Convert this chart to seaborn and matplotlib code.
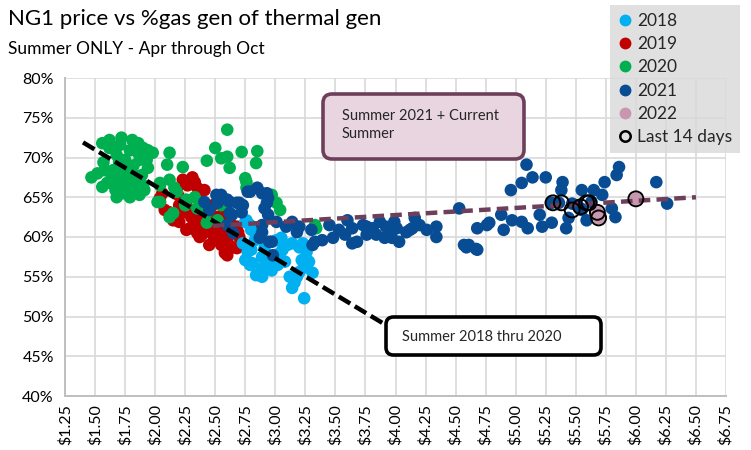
import matplotlib
matplotlib.use("Agg")
import matplotlib.pyplot as plt
from matplotlib.patches import FancyBboxPatch
from matplotlib.lines import Line2D
from matplotlib.ticker import FuncFormatter
import seaborn as sns
import pandas as pd
import numpy as np

# ---------------- data (price $/MMBtu, % gas gen of thermal gen) ----------------
price_2018 = [2.75, 2.79, 2.73, 2.77, 2.75, 2.81, 2.89, 2.95, 3.02, 3.06, 3.10, 3.14, 3.20, 3.26,
              3.22, 3.26, 3.20, 3.12, 3.16, 3.14, 3.24, 2.89, 2.84, 2.89, 2.97, 3.04, 3.28, 3.05,
              3.01, 2.80, 2.76, 2.80, 2.79, 2.98, 3.23, 3.31, 3.24, 2.83, 2.91, 3.08, 3.18]
pct_2018 = [61.9, 61.5, 59.2, 58.1, 57.1, 56.7, 57.5, 56.9, 56.5, 58.4, 59.0, 59.2, 58.7, 58.1,
            57.1, 56.2, 55.6, 55.0, 54.3, 53.6, 52.3, 55.0, 55.2, 56.1, 55.8, 58.0, 56.9, 59.9,
            59.6, 58.4, 62.1, 60.9, 56.5, 57.1, 59.2, 55.5, 56.5, 59.6, 58.6, 56.9, 55.0]

price_2019 = [2.31, 2.23, 2.06, 2.04, 2.12, 2.20, 2.29, 2.39, 2.48, 2.55, 2.60, 2.68, 2.69, 2.62,
              2.43, 2.26, 2.35, 2.51, 2.45, 2.56, 2.04, 2.15, 2.26, 2.37, 2.51, 2.58, 2.65, 2.70,
              2.68, 2.51, 2.37, 2.19, 2.29, 2.37, 2.41, 2.08, 2.23, 2.48, 2.60, 2.45, 2.33, 2.33,
              2.20, 2.30, 2.40, 2.50, 2.55, 2.45, 2.35, 2.62, 2.18, 2.27, 2.40]
pct_2019 = [67.5, 67.2, 65.5, 64.4, 63.1, 61.9, 61.1, 60.3, 60.3, 59.0, 57.7, 58.6, 60.6, 61.9,
            62.4, 64.4, 66.2, 61.1, 62.8, 62.8, 64.9, 62.1, 60.9, 60.0, 60.0, 58.0, 58.7, 60.0,
            61.3, 62.5, 63.1, 65.3, 63.4, 64.7, 65.9, 63.4, 63.1, 64.0, 59.6, 59.0, 61.9, 66.9,
            64.0, 62.5, 61.5, 61.5, 60.5, 60.8, 60.5, 58.8, 66.0, 66.5, 62.5]

price_2020 = [1.47, 1.56, 1.62, 1.72, 1.81, 1.86, 1.93, 1.98, 1.57, 1.65, 1.71, 1.60, 1.67, 1.73,
              1.81, 1.87, 1.77, 1.68, 1.75, 1.93, 1.94, 1.62, 1.85, 1.56, 1.68, 2.04, 2.02, 2.16,
              2.12, 2.10, 2.23, 1.69, 1.77, 1.83, 1.64, 1.75, 1.79, 1.89, 1.58, 1.71, 1.79, 1.87,
              1.85, 1.91, 1.52, 1.66, 1.72, 1.80, 1.90, 1.70, 1.82,
              2.60, 2.50, 2.43, 2.55, 2.60, 2.62, 2.72, 2.85, 2.84, 2.75, 2.76, 2.12, 2.04, 2.04,
              2.18, 2.33, 2.15, 2.35, 2.52, 2.55, 1.90, 1.94, 2.76, 3.01, 3.34, 3.33, 2.25, 2.43,
              2.12, 2.26, 2.43, 2.97, 3.04]
pct_2020 = [67.5, 71.8, 72.2, 72.5, 72.2, 71.8, 70.9, 70.6, 69.4, 68.4, 67.5, 66.8, 65.9, 65.5,
            66.3, 65.3, 66.8, 70.3, 69.7, 69.7, 68.7, 71.2, 70.7, 66.3, 65.0, 66.8, 64.4, 66.2,
            70.6, 69.1, 68.8, 68.7, 68.4, 67.8, 67.7, 65.9, 65.0, 67.8, 68.4, 71.6, 70.9, 69.7,
            66.8, 65.9, 68.0, 66.5, 66.2, 67.2, 66.5, 69.5, 69.0,
            73.5, 71.2, 69.6, 69.9, 70.1, 68.7, 70.7, 70.8, 69.3, 67.4, 66.2, 67.2, 66.5, 64.4,
            65.7, 65.0, 63.0, 63.6, 62.1, 64.0, 71.2, 70.9, 66.9, 64.3, 61.1, 61.5, 64.0, 63.1,
            62.5, 64.7, 61.8, 65.3, 63.4]

price_2021 = [2.51, 2.52, 2.62, 2.70, 2.72, 2.64, 2.77, 2.85, 2.93, 2.93, 2.94, 2.89, 2.97, 2.98,
              2.45, 2.60, 2.60, 2.68, 2.73, 2.79, 2.89, 2.94, 2.91, 3.01, 3.09, 3.20, 3.30, 2.89,
              2.87, 2.95, 2.41, 2.62, 2.65, 3.33, 3.14, 3.18, 2.55,
              3.31, 3.39, 3.48, 3.58, 3.60, 3.64, 3.68, 3.73, 3.81, 3.87, 3.92, 3.95, 4.01, 4.03,
              4.09, 4.16, 4.14, 4.26, 4.34, 4.34, 4.53, 4.57, 3.76, 3.84, 3.97, 3.64, 3.76, 4.12,
              4.61, 4.68, 4.68, 4.78, 4.88, 4.90, 4.97, 5.05, 5.10, 5.20, 5.22, 5.30, 5.42, 5.44,
              4.96, 5.05, 5.09, 5.14, 5.25, 5.38, 5.39, 5.55, 5.59, 5.65, 5.74, 5.72, 5.84, 5.86,
              5.80, 5.83, 6.17, 6.26, 5.51, 5.36, 5.47, 5.54, 5.63, 4.76, 5.30, 5.55, 4.59, 4.67,
              3.45, 3.53, 3.99, 4.20, 3.91]
pct_2021 = [65.3, 64.3, 64.4, 64.3, 63.1, 62.8, 65.7, 66.2, 65.5, 64.3, 62.8, 61.5, 59.4, 57.7,
            63.4, 61.5, 64.7, 64.3, 64.0, 65.7, 65.5, 64.9, 63.6, 61.9, 61.3, 61.3, 60.9, 60.6,
            59.9, 59.4, 64.4, 63.0, 60.5, 59.4, 61.9, 60.6, 65.3,
            59.0, 59.6, 59.9, 60.3, 62.1, 61.1, 59.4, 61.5, 61.1, 61.9, 61.3, 60.6, 61.1, 59.4,
            60.6, 62.4, 61.1, 60.9, 61.3, 60.0, 63.6, 59.0, 60.3, 60.3, 59.9, 59.2, 61.3, 60.9,
            59.0, 58.4, 61.1, 61.8, 62.8, 60.9, 62.1, 61.9, 61.1, 62.8, 61.3, 61.8, 61.1, 62.4,
            65.9, 66.8, 69.1, 67.5, 67.5, 65.9, 66.9, 65.9, 62.1, 65.9, 66.9, 65.3, 67.8, 68.8,
            63.6, 62.5, 66.9, 64.2, 64.0, 64.3, 64.2, 63.6, 64.4, 61.5, 64.3, 63.4, 58.7, 58.5,
            61.5, 60.9, 61.9, 61.5, 59.9]

price_2022 = [5.68, 5.69, 6.00]
pct_2022 = [63.1, 62.4, 64.8]

price_last14 = [5.31, 5.38, 5.47, 5.54, 5.59, 5.61, 5.68, 5.69, 6.00]
pct_last14 = [64.3, 64.3, 63.4, 63.8, 64.3, 64.3, 63.1, 62.4, 64.8]

# trend-line end points
trend_old_x = [1.40, 3.89]
trend_old_y = [71.9, 49.2]
trend_new_x = [2.48, 6.50]
trend_new_y = [61.4, 65.0]

years = ["2018", "2019", "2020", "2021", "2022"]
colors = {"2018": "#00b0f0", "2019": "#c00000", "2020": "#00b050",
          "2021": "#084c94", "2022": "#c996b0"}

x_ticks = [1.25 + 0.25 * i for i in range(23)]
y_ticks = [40, 45, 50, 55, 60, 65, 70, 75, 80]

title = "NG1 price vs %gas gen of thermal gen"
subtitle = "Summer ONLY - Apr through Oct"
box1_text = "Summer 2021 + Current\nSummer"
box2_text = "Summer 2018 thru 2020"

# ---------------- build frame (draw order: 2019, 2018, 2020, 2021, 2022) ----------------
series = {"2018": (price_2018, pct_2018), "2019": (price_2019, pct_2019),
          "2020": (price_2020, pct_2020), "2021": (price_2021, pct_2021),
          "2022": (price_2022, pct_2022)}
order = ["2019", "2018", "2020", "2021", "2022"]
df = pd.concat([pd.DataFrame({"price": series[y][0], "pct": series[y][1], "year": y}) for y in order],
               ignore_index=True)

sns.set_theme(style="white")
FONT = "Lato"
plt.rcParams["font.family"] = [FONT, "DejaVu Sans"]

fig = plt.figure(figsize=(7.51, 4.50), dpi=100)
ax = fig.add_axes([65 / 751, 1 - 396 / 450, (726 - 65) / 751, (396 - 78) / 450])

ax.set_axisbelow(True)
ax.grid(True, color="#d9d9d9", linewidth=1.2)

sns.scatterplot(data=df, x="price", y="pct", hue="year", palette=colors, s=82,
                linewidth=0, alpha=1, legend=False, ax=ax, zorder=3)

ax.plot(trend_old_x, trend_old_y, color="black", linewidth=3.2,
        linestyle=(0, (3.0, 1.2)), zorder=4, dash_capstyle="butt")
ax.plot(trend_new_x, trend_new_y, color="#6e3f5a", linewidth=3.2,
        linestyle=(0, (2.6, 1.4)), zorder=4, dash_capstyle="butt")

sns.scatterplot(x=price_last14, y=pct_last14, s=115, facecolor="none", edgecolor="black",
                linewidth=1.4, ax=ax, zorder=5, legend=False)

ax.set_xlim(1.25, 6.75)
ax.set_ylim(40, 80)
ax.set_xticks(x_ticks)
ax.set_yticks(y_ticks)
ax.xaxis.set_major_formatter(FuncFormatter(lambda v, p: f"${v:.2f}"))
ax.yaxis.set_major_formatter(FuncFormatter(lambda v, p: f"{v:.0f}%"))
ax.tick_params(axis="x", labelrotation=90, labelsize=11.5, length=4, color="#bfbfbf", width=1.2, pad=2)
ax.tick_params(axis="y", labelsize=11.5, length=4, color="#bfbfbf", width=1.2, pad=4)
for lab in ax.get_xticklabels() + ax.get_yticklabels():
    lab.set_color("black")
ax.set_xlabel("")
ax.set_ylabel("")
for s in ["top", "right"]:
    ax.spines[s].set_visible(False)
for s in ["left", "bottom"]:
    ax.spines[s].set_color("#bfbfbf")
    ax.spines[s].set_linewidth(1.4)

# titles
fig.text(8 / 751, 1 - 19 / 450, title, fontsize=16, va="center", ha="left", color="black")
fig.text(8 / 751, 1 - 49 / 450, subtitle, fontsize=12.5, va="center", ha="left", color="black")

# annotation boxes
asp = 751 / 450
b1 = FancyBboxPatch((323 / 751, 1 - 159 / 450), (524 - 323) / 751, (159 - 94) / 450,
                    boxstyle="round,pad=0,rounding_size=0.012", mutation_aspect=asp,
                    transform=fig.transFigure, facecolor="#e8d5df", edgecolor="#6e3f5a",
                    linewidth=2.6, zorder=6)
fig.patches.append(b1)
fig.text(342 / 751, 1 - 125 / 450, box1_text, fontsize=10.5, va="center", ha="left",
         linespacing=1.45, zorder=7)

b2 = FancyBboxPatch((386 / 751, 1 - 355 / 450), (601 - 386) / 751, (355 - 317) / 450,
                    boxstyle="round,pad=0,rounding_size=0.010", mutation_aspect=asp,
                    transform=fig.transFigure, facecolor="white", edgecolor="black",
                    linewidth=2.6, zorder=6)
fig.patches.append(b2)
fig.text(402 / 751, 1 - 337 / 450, box2_text, fontsize=10.5, va="center", ha="left", zorder=7)

# legend
handles = [Line2D([], [], marker="o", linestyle="none", markersize=7.5,
                  markerfacecolor=colors[y], markeredgecolor=colors[y]) for y in years]
handles.append(Line2D([], [], marker="o", linestyle="none", markersize=7.5,
                      markerfacecolor="none", markeredgecolor="black", markeredgewidth=1.8))
labels = years + ["Last 14 days"]
leg = fig.legend(handles, labels, loc="upper left", bbox_to_anchor=(610 / 751, 1 - 5 / 450),
                 bbox_transform=fig.transFigure, frameon=True, fancybox=False,
                 facecolor="#d9d9d9", edgecolor="#d9d9d9", fontsize=12.5,
                 handlelength=0.8, handletextpad=0.3, labelspacing=0.42,
                 borderpad=0.45, borderaxespad=0)
leg.get_frame().set_linewidth(0)

fig.savefig("out.png", dpi=100)
